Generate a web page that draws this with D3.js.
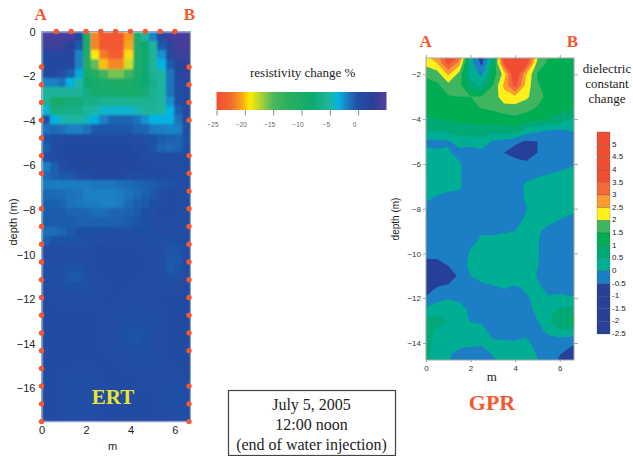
<!DOCTYPE html>
<html>
<head>
<meta charset="UTF-8">
<title>ERT and GPR, July 5 2005</title>
<script src="https://cdnjs.cloudflare.com/ajax/libs/d3/7.8.5/d3.min.js"></script>
<style>
  body { margin: 0; background: #fff; }
  svg { display: block; }
  .sans { font-family: "Liberation Sans", Arial, sans-serif; }
  .serif { font-family: "Liberation Serif", "Times New Roman", serif; }
</style>
</head>
<body>
<script>
// ERT resistivity change %, 18 columns, one row per depth step
var ertRows = [
  [4,4,4,4,1,-10,-21.5,-24,-24,-24,-21,-10,-5,-2,.5,4,4,4],
  [3.5,3.5,3.5,2,-.5,-10,-21.5,-24,-24,-24,-20.5,-10,-8,-5,-.5,1.5,4,4],
  [1.5,1.5,1.5,1.5,-2,-10,-19,-22,-23.5,-23.5,-19.5,-10,-8,-5.5,-2.5,1,3.5,3.5],
  [1,1,1,1,-2,-11,-15.5,-20,-21.5,-21.5,-18,-10,-8,-5.5,-3.5,-.5,1.5,3],
  [1,1,0,-.8,-3.2,-9,-11,-14,-16,-16,-14,-10,-8,-6,-5,-1.5,1,3],
  [-2,-2,-1.5,-3.5,-4.8,-8,-9,-10,-10,-10,-10,-9,-8,-6.5,-5,-1.5,.5,.5],
  [-5.5,-5.5,-5.5,-5.5,-5.5,-7,-9,-9,-9,-9,-9,-9,-7.5,-6,-5,-1.5,0,.5],
  [-5.5,-9,-9,-7.5,-7.5,-6.5,-6.5,-6,-6,-6,-6,-6,-6,-6,-5,-2.5,0,.5],
  [-4,-7,-7,-6.5,-6.5,-5.5,-5,-4,-4,-4,-4,-4.5,-5.5,-5.5,-5,-3.5,-.8,.5],
  [0,-3.5,-4.5,-5,-5,-4.3,-3.4,-2,-1,-1,-1,-1.5,-2.5,-3.5,-3.5,-3.5,-1.5,.5],
  [-1.5,-1.2,-1.5,-2,-2,-1.5,-.5,-.5,-.5,-.5,-.5,-1,-1,-1.8,-2,-2.2,-2,0],
  [-.3,.3,.5,.6,.7,.7,.7,.7,.7,.7,.5,.3,0,-.3,-.6,-.8,-1,-.3],
  [-.8,.6,.8,.8,.9,.9,.9,.9,.9,.9,.8,.7,.4,-.4,-1,-1.2,-1,0],
  [.2,.6,.9,1,1,1,1,1,1,1,1,.9,.6,.4,.3,.3,.3,.4],
  [-2,-.8,.2,.8,1,1.2,1.2,1.2,1.2,1.2,1.2,1,.8,.6,.5,.5,.5,.4],
  [-1.2,-.8,-.5,-.5,0,.4,.8,.8,.8,.8,.7,.7,.6,.5,.5,.4,.2,.2],
  [-1.8,-1.8,-1.8,-1.8,-1.8,-1.8,-1.6,-1.6,-1.6,-1.4,-1.2,-1,-.8,-.6,-.4,-.3,0,.1],
  [-1.2,-1.2,-1.3,-1.5,-1.6,-2,-2,-2,-2,-1.8,-1.5,-1.2,-.8,-.5,.2,.4,.4,0],
  [-.8,-.8,-1,-1.5,-1.6,-1.8,-1.8,-2,-2,-1.8,-1.2,-.8,-.5,-.2,.3,.5,.5,.2],
  [-.6,-.6,-.6,-1,-1,-1,-1.3,-1.3,-1,-1,-.8,-.5,-.2,0,.4,.5,.5,.3],
  [-.6,-.6,-.6,-.6,-.8,-.8,-.8,-.8,-.8,-.8,-.6,-.4,-.2,.2,.3,.3,.3,.3],
  [-1.3,-1.3,-1,-.5,-.2,-.2,-.2,-.2,0,0,0,-.2,-.2,0,.2,.3,.3,.3],
  [-.8,-.3,-.3,-.3,-.3,0,0,0,.2,.3,.3,.2,0,0,0,-.1,-.1,.2],
  [0,.3,.2,0,0,.2,.4,.5,.6,.7,.6,.4,.3,.2,0,-.4,-.4,.1],
  [.3,.3,.2,.1,.1,.2,.5,.5,.6,.7,.6,.5,.4,.2,0,-.5,-.5,.1],
  [.2,0,0,-.3,-.3,.1,.5,.5,.6,.6,.5,.4,.4,.2,0,-.6,-.4,.2],
  [-.1,0,0,-.5,-.5,0,.3,.4,.5,.5,.4,.4,.3,.3,.2,-.2,0,.3],
  [.2,.2,0,-.2,-.2,0,.3,.3,.4,.4,.4,.3,.3,.3,.3,.3,.3,.4],
  [.4,.3,.2,0,0,.2,.3,.4,.4,.4,.3,.3,.3,.4,.4,.4,.4,.4],
  [.5,.4,.3,.3,.3,.3,.4,.4,.4,.3,.2,.2,.2,.3,.4,.4,.4,.4],
  [.5,.5,.4,.4,.4,.4,.4,.3,.3,.2,0,0,.1,.2,.3,.4,.4,.5],
  [.5,.5,.5,.5,.4,.4,.4,.3,.2,0,-.2,-.2,0,.1,.3,.4,.5,.5],
  [.6,.5,.5,.5,.5,.4,.4,.3,.1,-.1,-.3,-.3,-.1,.1,.3,.4,.5,.5],
  [.6,.6,.5,.5,.5,.5,.4,.3,.2,0,-.2,-.3,-.2,0,.2,.4,.5,.5],
  [.6,.6,.5,.5,.5,.5,.4,.4,.3,.2,0,-.1,-.1,0,.2,.4,.5,.5],
  [.6,.6,.6,.5,.5,.5,.5,.4,.4,.3,.2,.1,0,.1,.2,.4,.5,.5],
  [.6,.6,.5,.5,.3,.3,.4,.5,.5,.4,.3,.3,.2,.2,.3,.3,.4,.5],
  [.6,.5,.3,.2,.1,.1,.2,.4,.5,.5,.4,.4,.3,.3,.3,.2,.2,.3],
  [.6,.4,.2,0,0,0,.1,.3,.5,.5,.5,.5,.4,.4,.3,.1,-.1,.2],
  [.6,.4,.1,0,-.1,0,.1,.3,.5,.5,.5,.5,.5,.4,.3,0,-.2,.1],
  [.7,.4,.1,0,0,.1,.2,.4,.5,.6,.6,.5,.5,.4,.3,.1,-.1,.2],
  [.7,.4,.2,.1,.2,.2,.3,.4,.5,.6,.6,.6,.5,.5,.4,.3,.2,.3]
];

var ertStops = [-25,-22.5,-20.5,-19.1,-17.3,-15,-12.6,-8,-5,-3.5,-2,-.2,2.7,5];
var ertStopColors = ['#f04e30','#f2682f','#faa61a','#ffed00','#b2d235','#4cb860','#2bb05e','#0fa96f','#1fb5a0','#00b3e3','#1b80c4','#1f50a6','#2a3f96','#5b3e9e'];
var ertLegendTicks = [-25,-20,-15,-10,-5,0];
var ertDepthTicks = [0,-2,-4,-6,-8,-10,-12,-14,-16];
var mTicks = [0,2,4,6];

// electrodes around the ERT section, metres
var topElectrodes = [.667,1.333,2,2.667,3.333,4,4.667,5.333,6];
var leftElectrodes = [1.59,2.385,3.18,3.975,4.77,5.565,6.36,7.95,8.745,9.54,10.335,11.13,11.925,12.72,13.515,14.31,15.105,15.9,16.695,17.49];
var rightElectrodes = [1.59,2.385,3.18,3.975,5.565,6.36,7.155,7.95,8.745,9.54,10.335,11.13,11.925,12.72,13.515,14.31,15.9,16.695,17.49];

// GPR dielectric constant change on a 0.5 m grid
var gprDepths = [-1,-1.5,-2,-2.5,-3,-3.5,-4,-4.5,-5,-5.5,-6,-6.5,-7,-7.5,-8,-8.5,-9,-9.5,-10,-10.5,-11,-11.5,-12,-12.5,-13,-13.5,-14,-14.5,-15];
var gprColumns = [
  [2.6,2.2,1.55,1.4,1.3,1.15,.95,.5,-.1,.1,.55,.5,.3,.1,-.15,-.3,-.35,-.4,-.45,-.55,-.8,-.7,-.45,.1,.6,.7,.7,.6,.6],
  [3,2.5,1.75,1.4,1.3,1.2,1,.55,-.1,.05,.3,.3,.2,-.05,-.2,-.3,-.3,-.35,-.4,-.6,-.8,-.5,-.15,.3,.65,.4,.3,.3,.3],
  [4.2,3.7,2.6,1.8,1.45,1.25,1.05,.65,-.05,.05,.2,.2,.1,-.1,-.2,-.25,-.3,-.35,-.4,-.48,-.65,-.45,-.05,.4,.5,.3,.15,.05,0],
  [4,2.7,1.8,1.65,1.5,1.3,1.1,.75,.2,-.15,.05,.05,.05,-.1,-.2,-.3,-.3,-.35,-.35,-.4,-.45,-.3,-.1,.2,.15,.1,.1,-.1,-.2],
  [.1,.2,.3,.7,1.5,1.4,1.1,.85,.2,-.2,-.25,-.25,-.2,-.25,-.3,-.3,-.2,-.1,.08,.2,0,-.15,-.2,-.1,-.02,.15,.08,-.15,-.2],
  [-1,-.62,-.1,.45,1.55,1.52,1.15,.85,.3,-.15,-.2,-.2,-.2,-.2,-.2,-.2,-.05,.1,.35,.4,.15,-.1,-.2,-.25,-.05,.1,.05,-.15,-.2],
  [.5,.8,1.2,1.5,1.7,1.6,1.2,.8,-.05,-.3,-.4,-.35,-.3,-.3,-.25,-.15,-.1,.15,.4,.45,.25,-.05,-.2,-.3,-.25,-.1,.05,.02,-.1],
  [4,3.6,2.2,2.6,2.3,1.8,1.25,.8,-.15,-.5,-.35,-.3,-.25,-.25,-.2,-.1,-.05,.2,.42,.46,.3,.05,-.2,-.3,-.3,-.15,.05,.1,.05],
  [5,4.6,4.2,3.7,2.4,1.8,1.35,.85,-.4,-.7,-.3,-.2,-.2,-.2,-.15,-.1,0,.35,.46,.47,.42,-.05,-.15,-.25,-.25,-.2,.05,.15,.1],
  [4.5,3.8,2.5,2.3,2.1,1.7,1.2,.3,-.55,-.8,-.4,-.12,.08,.06,-.02,.05,.25,.4,.46,.46,.4,.1,-.08,-.2,-.25,-.1,.1,.15,.1],
  [2.3,1.8,1.45,1.55,1.7,1.45,1.15,.1,-.5,-.5,-.3,-.05,.2,.25,.3,.1,.05,.05,.05,.03,-.05,.15,.2,.15,0,-.15,-.15,-.02,.05],
  [1.55,1.4,1.25,1.3,1.35,1.2,1,0,-.5,-.3,-.25,.02,.2,.2,.1,.1,-.1,-.3,-.3,-.3,-.3,-.3,.1,.35,.45,.1,-.25,-.3,-.25],
  [1.4,1.25,1.2,1.2,1.2,1.15,.85,-.05,-.2,-.2,-.1,.05,.2,.15,.03,0,-.2,-.3,-.3,-.3,-.3,-.15,.1,.6,.9,.4,-.35,-.48,-.65],
  [1.3,1.2,1.15,1.15,1.15,1.1,.45,.03,-.2,-.15,-.05,.15,.2,.1,.05,-.05,-.2,-.3,-.3,-.3,-.3,-.25,.05,.7,1.1,.3,-.4,-.7,-.8],
  [1.25,1.2,1.15,1.15,1.1,1.05,.4,.03,-.2,-.1,0,.2,.2,.1,.05,-.1,-.25,-.3,-.3,-.3,-.3,-.2,.1,.8,1.2,.3,-.5,-.8,-.9]
];
var gprColumnX = [0,.5,1,1.5,2,2.5,3,3.5,4,4.5,5,5.5,6,6.5,7];

var gprLevels = [-.5,0,.5,1,1.5,2,2.5,3,3.5];
var gprColors = ['#274198','#1a7fc6','#00ae93','#00a974','#00ad52','#3fb55f','#fff01a','#fa9c2f','#f2693a','#f04e30'];
var gprLegendValues = [5,4.5,4,3.5,3,2.5,2,1.5,1,.5,0,-.5,-1,-1.5,-2,-2.5];
var gprDepthTicks = [-2,-4,-6,-8,-10,-12,-14];

var red = '#f15a30';
var svg = d3.select('body').append('svg').attr('width', 633).attr('height', 456);
var defs = svg.append('defs');

// the source is a soft scan, so the two maps get a small blur
defs.append('filter').attr('id', 'softErt').append('feGaussianBlur').attr('stdDeviation', .8);
defs.append('filter').attr('id', 'softGpr').append('feGaussianBlur').attr('stdDeviation', .5);

// ---- ERT panel
var ertX = d3.scaleLinear().domain([0, 6.7]).range([41.5, 190.5]);
var ertY = d3.scaleLinear().domain([0, -17.5]).range([31.5, 421.8]);
var ertCol = d3.scaleBand().domain(d3.range(ertRows[0].length)).range(ertX.range());
var ertRow = d3.scaleBand().domain(d3.range(ertRows.length)).range(ertY.range());
var ertColor = d3.scaleLinear().domain(ertStops).range(ertStopColors).clamp(true);

defs.append('clipPath').attr('id', 'ertClip').append('rect')
  .attr('x', 41.5).attr('y', 31.5).attr('width', 149).attr('height', 390.3);

svg.append('g').attr('clip-path', 'url(#ertClip)')
  .append('g').attr('filter', 'url(#softErt)').attr('shape-rendering', 'crispEdges')
  .selectAll('g').data(ertRows).join('g')
  .each(function(row, r) {
    d3.select(this).selectAll('rect').data(row).join('rect')
      .attr('x', function(d, c) { return ertCol(c); })
      .attr('y', ertRow(r))
      .attr('width', ertCol.bandwidth() + .5)
      .attr('height', ertRow.bandwidth() + .5)
      .attr('fill', function(d) { return ertColor(d); });
  });

svg.append('rect')
  .attr('x', 41.5).attr('y', 31.5).attr('width', 149).attr('height', 390.3)
  .attr('fill', 'none').attr('stroke', '#8ea6d2').attr('stroke-width', 1);

var ertLeft = svg.append('g').attr('transform', 'translate(41.5,0)')
  .call(d3.axisLeft(ertY).tickValues(ertDepthTicks).tickSize(0).tickPadding(6).tickFormat(d3.format('d')));
var ertBottom = svg.append('g').attr('transform', 'translate(0,421.8)')
  .call(d3.axisBottom(ertX).tickValues(mTicks).tickSize(0).tickPadding(4).tickFormat(d3.format('d')));
[ertLeft, ertBottom].forEach(function(a) {
  a.select('.domain').remove();
  a.selectAll('text').style('font-size', '11px').style('font-family', '"Liberation Sans"').attr('fill', '#222');
});

svg.append('text').attr('class', 'sans').attr('transform', 'translate(17,222) rotate(-90)')
  .attr('text-anchor', 'middle').attr('font-size', 11).attr('fill', '#222').text('depth (m)');
svg.append('text').attr('class', 'sans').attr('x', 112.5).attr('y', 450)
  .attr('text-anchor', 'middle').attr('font-size', 11).attr('fill', '#222').text('m');

function dots(data, xf, yf) {
  svg.append('g').selectAll('circle').data(data).join('circle')
    .attr('cx', xf).attr('cy', yf).attr('r', 2.7).attr('fill', red);
}
dots(topElectrodes, function(d) { return ertX(d); }, function() { return ertY(0); });
dots(leftElectrodes, function() { return ertX(0); }, function(d) { return ertY(-d); });
dots(rightElectrodes, function() { return ertX(6.7) - 1.5; }, function(d) { return ertY(-d); });

// ---- resistivity colour bar
var legX = d3.scaleLinear().domain([-25, 5]).range([216.5, 386.5]);
var grad = defs.append('linearGradient').attr('id', 'ertGrad');
grad.selectAll('stop').data(ertStops).join('stop')
  .attr('offset', function(d) { return (d + 25) / 30; })
  .attr('stop-color', function(d, i) { return ertStopColors[i]; });
svg.append('rect').attr('x', 216.5).attr('y', 92).attr('width', 170).attr('height', 18).attr('fill', 'url(#ertGrad)');
var legAxis = svg.append('g').attr('transform', 'translate(0,110)')
  .call(d3.axisBottom(legX).tickValues(ertLegendTicks).tickSize(5.5).tickPadding(7).tickFormat(d3.format('d')));
legAxis.select('.domain').remove();
legAxis.selectAll('line').attr('stroke', '#888');
legAxis.selectAll('text').attr('dx', -4).attr('fill', '#666')
  .style('font-size', '6.5px').style('font-family', '"Liberation Sans"');
svg.append('text').attr('class', 'serif').attr('x', 302.7).attr('y', 77)
  .attr('text-anchor', 'middle').attr('font-size', 13).attr('fill', '#222').text('resistivity change %');

// ---- GPR panel
var gprX = d3.scaleLinear().domain([0, 6.64]).range([426, 574]);
var gprY = d3.scaleLinear().domain([-1.27, -14.76]).range([58, 360]);
var nx = gprColumnX.length, ny = gprDepths.length;
var gprGrid = [];
gprDepths.forEach(function(depth, j) {
  gprColumnX.forEach(function(x, i) { gprGrid.push(gprColumns[i][j]); });
});
var gprColor = d3.scaleThreshold().domain(gprLevels).range(gprColors);
var gprPath = d3.geoPath(d3.geoTransform({
  point: function(cx, cy) {
    // contour coordinates are grid index + .5
    this.stream.point(gprX((cx - .5) * .5), gprY(-1 - (cy - .5) * .5));
  }
}));
defs.append('clipPath').attr('id', 'gprClip').append('rect')
  .attr('x', 426).attr('y', 58).attr('width', 148).attr('height', 302);

var gprPlot = svg.append('g').attr('clip-path', 'url(#gprClip)').append('g').attr('filter', 'url(#softGpr)');
gprPlot.append('rect').attr('x', 420).attr('y', 50).attr('width', 160).attr('height', 316).attr('fill', gprColors[0]);
gprPlot.selectAll('path').data(d3.contours().size([nx, ny]).thresholds(gprLevels)(gprGrid)).join('path')
  .attr('d', gprPath)
  .attr('fill', function(d) { return gprColor(d.value); });
svg.append('rect').attr('x', 426).attr('y', 58).attr('width', 148).attr('height', 302)
  .attr('fill', 'none').attr('stroke', '#a5a5a5').attr('stroke-width', 1);

var gLeft = svg.append('g').attr('transform', 'translate(426,0)')
  .call(d3.axisLeft(gprY).tickValues(gprDepthTicks).tickSize(3).tickPadding(2).tickFormat(d3.format('d')));
var gRight = svg.append('g').attr('transform', 'translate(574,0)')
  .call(d3.axisRight(gprY).tickValues(gprDepthTicks).tickSize(4).tickFormat(''));
var gTop = svg.append('g').attr('transform', 'translate(0,58)')
  .call(d3.axisTop(gprX).tickValues(mTicks).tickSize(3).tickFormat(''));
var gBottom = svg.append('g').attr('transform', 'translate(0,360)')
  .call(d3.axisBottom(gprX).tickValues(mTicks).tickSize(2).tickPadding(3).tickFormat(d3.format('d')));
[gLeft, gRight, gTop, gBottom].forEach(function(a) {
  a.select('.domain').remove();
  a.selectAll('line').attr('stroke', '#a5a5a5');
  a.selectAll('text').attr('fill', '#333')
    .style('font-size', '8px').style('font-family', '"Liberation Sans"');
});

svg.append('text').attr('class', 'sans').attr('transform', 'translate(399,219) rotate(-90)')
  .attr('text-anchor', 'middle').attr('font-size', 10).attr('fill', '#222').text('depth (m)');
svg.append('text').attr('class', 'serif').attr('x', 491.7).attr('y', 381)
  .attr('text-anchor', 'middle').attr('font-size', 13).attr('fill', '#222').text('m');

// ---- dielectric colour bar
var barY = d3.scaleLinear().domain([-2.5, 5.5]).range([334, 132]);
svg.append('g').selectAll('rect').data(gprLegendValues).join('rect')
  .attr('x', 597).attr('width', 13)
  .attr('y', function(d) { return barY(d + .5); })
  .attr('height', function(d) { return barY(d) - barY(d + .5); })
  .attr('fill', function(d) { return gprColor(d + .25); })
  .attr('stroke', 'rgba(60,60,60,.35)').attr('stroke-width', .6);
svg.append('g').selectAll('text').data(gprLegendValues).join('text')
  .attr('class', 'sans').attr('x', 612).attr('y', function(d) { return barY(d) + 2; })
  .attr('font-size', 8).attr('fill', '#222')
  .text(function(d) { return d; });

['dielectric', 'constant', 'change'].forEach(function(t, i) {
  svg.append('text').attr('class', 'serif').attr('x', 607).attr('y', 72.5 + i * 15.2)
    .attr('text-anchor', 'middle').attr('font-size', 13).attr('fill', '#222').text(t);
});

// ---- letters and caption
function serifBold(t, x, y, size, fill) {
  svg.append('text').attr('class', 'serif').attr('x', x).attr('y', y)
    .attr('text-anchor', 'middle').attr('font-weight', 'bold')
    .attr('font-size', size).attr('fill', fill).text(t);
}
serifBold('A', 40.7, 20, 17, red);
serifBold('B', 189.5, 20, 17, red);
serifBold('A', 425.7, 46.5, 17, red);
serifBold('B', 572.5, 46.5, 17, red);
serifBold('ERT', 113, 404, 21, '#e8e337');
serifBold('GPR', 492, 410, 22, red);

svg.append('rect').attr('x', 228.5).attr('y', 390.5).attr('width', 167).attr('height', 65)
  .attr('fill', '#fff').attr('stroke', '#444').attr('stroke-width', 1.2);
['July 5, 2005', '12:00 noon', '(end of water injection)'].forEach(function(t, i) {
  svg.append('text').attr('class', 'serif').attr('x', 311.5).attr('y', 410 + i * 20)
    .attr('text-anchor', 'middle').attr('font-size', 16).attr('fill', '#222').text(t);
});
</script>
</body>
</html>
